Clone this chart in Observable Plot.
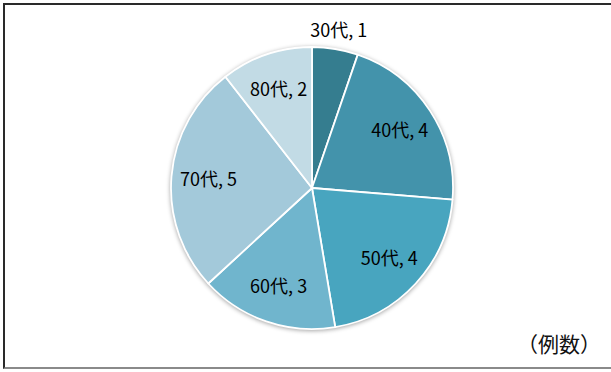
<!DOCTYPE html>
<html><head><meta charset="utf-8">
<script src="https://cdn.jsdelivr.net/npm/d3@7"></script>
<script src="https://cdn.jsdelivr.net/npm/@observablehq/plot@0.6"></script>
<style>
html,body{margin:0;padding:0;background:#fff;overflow:hidden;}
#wrap{position:relative;width:611px;height:372px;}
#frame{position:absolute;left:3px;top:3px;width:620px;height:362px;border-left:2.5px solid #2a2a2a;border-top:2.5px solid #2a2a2a;border-bottom:2px solid #8a8a8a;box-sizing:content-box;pointer-events:none;}
#chart{position:absolute;left:0;top:0;}
#note{position:absolute;right:10px;top:330px;font-family:"Noto Sans CJK JP";font-size:21px;line-height:26px;color:#111;white-space:nowrap;}
</style></head>
<body>
<div id="wrap"><div id="chart"></div><div id="frame"></div><div id="note">（例数）</div></div>
<script>
const categories = ["30代","40代","50代","60代","70代","80代"];
const counts = [1,4,4,3,5,2];
const colors = ["#357d8f","#4393ab","#48a5bf","#70b5cd","#a3c9da","#c2dbe5"];

const W = 611, H = 372;
const cx = 312, cy = 188, R = 141;
const rows = categories.map((c,i)=>({category:c, count:counts[i], color:colors[i]}));
const arcs = d3.pie().sort(null).value(d=>d.count)(rows);
const total = d3.sum(counts);
const labels = arcs.map(a=>{
  const mid = (a.startAngle + a.endAngle)/2;
  const frac = a.data.count/total;
  const r = frac < 0.07 ? R*1.13 : R*0.74;
  return {text: `${a.data.category}, ${a.data.count}`, x: cx + r*Math.sin(mid), y: cy - r*Math.cos(mid)};
});

function pieMark(index, scales) {
  const g = d3.create("svg:g")
    .attr("transform", `translate(${scales.x(cx)},${scales.y(cy)})`)
    .style("filter","drop-shadow(0px 1px 2px rgba(0,0,0,0.35))");
  const arc = d3.arc().innerRadius(0).outerRadius(R);
  g.selectAll("path").data(arcs).join("path")
    .attr("d", arc)
    .attr("fill", d=>d.data.color)
    .attr("stroke", "#fff")
    .attr("stroke-width", 1.8)
    .attr("stroke-linejoin","round");
  return g.node();
}

const chart = Plot.plot({
  width: W, height: H,
  margin: 0,
  x: {domain:[0,W], range:[0,W], axis:null},
  y: {domain:[0,H], range:[0,H], axis:null},
  style: {background:"transparent"},
  marks: [
    pieMark,
    Plot.text(labels, {x:"x", y:"y", text:"text", fill:"#000", fontSize:18, fontFamily:"Noto Sans CJK JP", textAnchor:"middle", lineAnchor:"middle"})
  ]
});
document.getElementById("chart").appendChild(chart);
</script>
</body></html>
